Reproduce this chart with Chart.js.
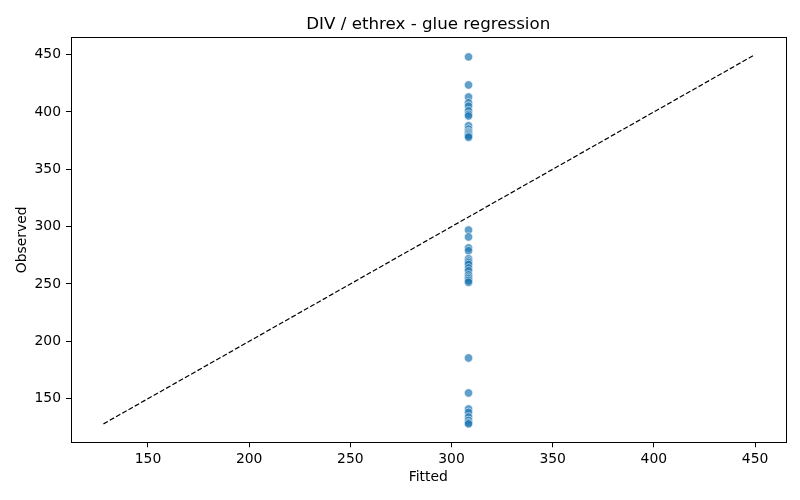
<!DOCTYPE html>
<html>
<head>
<meta charset="utf-8">
<script src="https://cdn.jsdelivr.net/npm/chart.js@4.4.1/dist/chart.umd.min.js"></script>
<style>
  html, body { margin: 0; padding: 0; background: #fff; }
  #wrap { width: 800px; height: 500px; }
</style>
</head>
<body>
<div id="wrap"><canvas id="c" width="800" height="500"></canvas></div>
<script>
// ---- data ----
const titleText = "DIV / ethrex - glue regression";
const xLabel = "Fitted";
const yLabel = "Observed";
const observed = [
  448, 423.5, 413, 408, 405, 401, 398, 396.5, 388, 385, 383, 382, 381, 380, 379, 378,
  297, 291, 281.5, 279, 272, 270, 268.5, 267, 264, 261.5, 258, 256, 254.5, 253, 251.5,
  185.5, 155, 141, 138, 134, 131, 129, 128
];
const fitted = [
  308.4, 308.4, 308.4, 308.4, 308.4, 308.4, 308.4, 308.4, 308.4, 308.4, 308.4, 308.4, 308.4, 308.4, 308.4, 308.4,
  308.4, 308.4, 308.4, 308.4, 308.4, 308.4, 308.4, 308.4, 308.4, 308.4, 308.4, 308.4, 308.4, 308.4, 308.4,
  308.4, 308.4, 308.4, 308.4, 308.4, 308.4, 308.4, 308.4
];
const refLineX = [128, 449];
const refLineY = [128, 449];
const xTicks = [150, 200, 250, 300, 350, 400, 450];
const yTicks = [150, 200, 250, 300, 350, 400, 450];
const axisMin = 111.95;
const axisMax = 465.05;

// ---- chart ----
Chart.defaults.font.family = "'DejaVu Sans', sans-serif";
Chart.defaults.color = '#000';

const boxPlugin = {
  id: 'box',
  afterDraw(chart) {
    const {ctx, chartArea: a} = chart;
    ctx.save();
    ctx.strokeStyle = '#000';
    ctx.lineWidth = 1;
    ctx.strokeRect(Math.round(a.left) + 0.5, Math.round(a.top) + 0.5,
                   Math.round(a.right) - Math.round(a.left), Math.round(a.bottom) - Math.round(a.top));
    ctx.restore();
  }
};

const tickSetter = (vals) => (scale) => { scale.ticks = vals.map(v => ({value: v})); };

new Chart(document.getElementById('c'), {
  type: 'scatter',
  data: {
    datasets: [
      {
        label: 'points',
        data: fitted.map((x, i) => ({x: x, y: observed[i]})),
        backgroundColor: 'rgba(31,119,180,0.7)',
        borderColor: 'rgba(255,255,255,0.7)',
        borderWidth: 0.8,
        pointRadius: 4.2,
        pointHoverRadius: 4.2,
        order: 2
      },
      {
        type: 'line',
        label: 'y = x',
        data: refLineX.map((x, i) => ({x: x, y: refLineY[i]})),
        borderColor: '#000',
        borderWidth: 1.2,
        borderDash: [5, 2.2],
        pointRadius: 0,
        fill: false,
        showLine: true,
        order: 1
      }
    ]
  },
  options: {
    responsive: false,
    animation: false,
    devicePixelRatio: 1,
    layout: { padding: { left: 0, right: 14.5, top: 0, bottom: 0 } },
    plugins: {
      legend: { display: false },
      tooltip: { enabled: false },
      title: {
        display: true,
        fullSize: false,
        text: titleText,
        font: { size: 16.7, weight: 'normal' },
        lineHeight: 1.2,
        padding: { top: 14.2, bottom: 3.1 },
        color: '#000'
      }
    },
    scales: {
      x: {
        type: 'linear',
        min: axisMin,
        max: axisMax,
        afterBuildTicks: tickSetter(xTicks),
        afterFit(scale) { scale.height = 57.7; },
        grid: { drawOnChartArea: false, drawTicks: true, tickLength: 5, color: '#000', lineWidth: 1 },
        border: { display: true, color: '#000', width: 1 },
        ticks: { font: { size: 13.9 }, padding: 4, maxRotation: 0, color: '#000' },
        title: { display: true, text: xLabel, font: { size: 13.9 }, padding: { top: 14.7, bottom: 14.7 }, color: '#000' }
      },
      y: {
        type: 'linear',
        min: axisMin,
        max: axisMax,
        afterBuildTicks: tickSetter(yTicks),
        afterFit(scale) { scale.width = 71; },
        grid: { drawOnChartArea: false, drawTicks: true, tickLength: 5, color: '#000', lineWidth: 1 },
        border: { display: true, color: '#000', width: 1 },
        ticks: { font: { size: 13.9 }, padding: 5, color: '#000' },
        title: { display: true, text: yLabel, font: { size: 13.9 }, padding: { top: 13.7, bottom: 13.7 }, color: '#000' }
      }
    }
  },
  plugins: [boxPlugin]
});
</script>
</body>
</html>
